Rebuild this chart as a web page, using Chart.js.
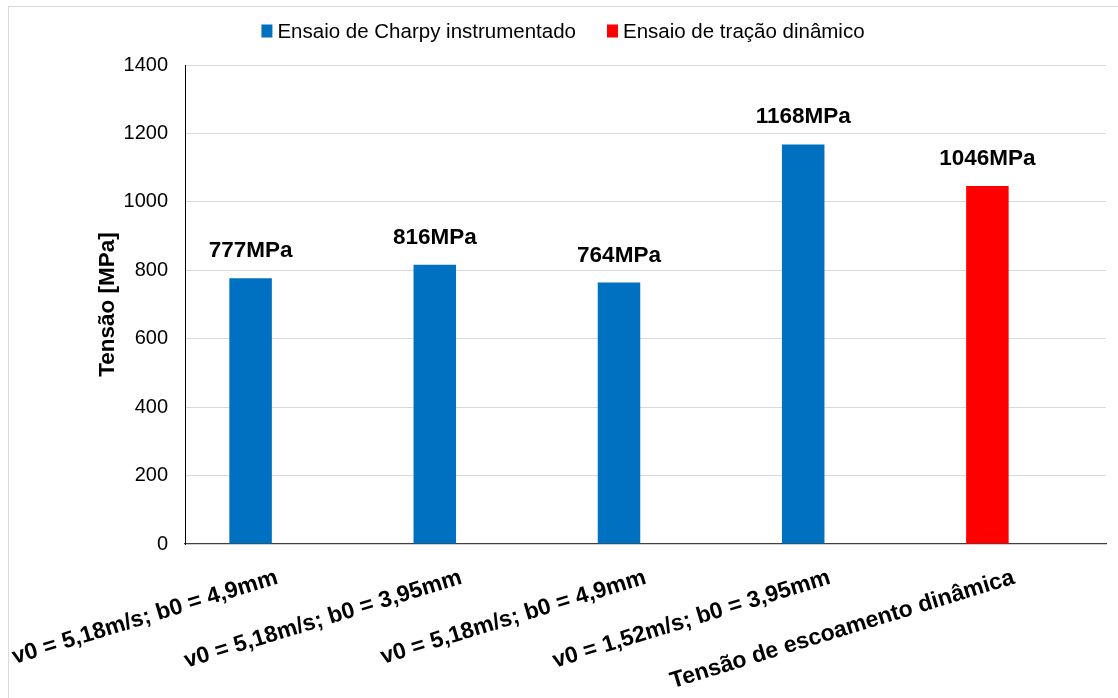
<!DOCTYPE html>
<html lang="pt">
<head>
<meta charset="utf-8">
<title>Tensão de escoamento dinâmica</title>
<script src="https://cdn.jsdelivr.net/npm/chart.js@4.4.1/dist/chart.umd.min.js"></script>
<style>
  html, body { margin: 0; padding: 0; background: #ffffff; }
  #wrap { position: relative; width: 1118px; height: 698px; overflow: hidden; }
  #frame { position: absolute; left: 8px; top: 6px; width: 1200px; height: 800px;
           border: 1px solid #d9d9d9; box-sizing: border-box; }
  #chart { position: absolute; left: 0; top: 0; }
</style>
</head>
<body>
<div id="wrap">
  <div id="frame"></div>
  <canvas id="chart" width="1118" height="698"></canvas>
</div>
<script>
// Ensaios e valores de tensão (MPa)
const categories = [
  'v0 = 5,18m/s; b0 = 4,9mm',
  'v0 = 5,18m/s; b0 = 3,95mm',
  'v0 = 5,18m/s; b0 = 4,9mm',
  'v0 = 1,52m/s; b0 = 3,95mm',
  'Tensão de escoamento dinâmica'
];
const charpyValues = [777, 816, 764, 1168, null];
const tracaoValues = [null, null, null, null, 1046];
const yTickValues = [0, 200, 400, 600, 800, 1000, 1200, 1400];
const seriesNames = ['Ensaio de Charpy instrumentado', 'Ensaio de tração dinâmico'];
const valueUnit = 'MPa';

const FONT = "'Liberation Sans', Arial, Helvetica, sans-serif";
const BLUE = '#0070C0';
const RED = '#FF0000';

// Rótulos de valor acima de cada barra
const valueLabels = {
  id: 'valueLabels',
  afterDatasetsDraw(chart) {
    const ctx = chart.ctx;
    ctx.save();
    ctx.font = 'bold 22.5px ' + FONT;
    ctx.fillStyle = '#000000';
    ctx.textAlign = 'center';
    ctx.textBaseline = 'alphabetic';
    chart.data.datasets.forEach((ds, di) => {
      if (!ds.showValues) return;
      const meta = chart.getDatasetMeta(di);
      meta.data.forEach((bar, i) => {
        const v = ds.data[i];
        if (v === null || v === undefined) return;
        ctx.fillText(v + valueUnit, bar.x, bar.y - 21);
      });
    });
    ctx.restore();
  }
};

// Legenda centrada no topo
const topLegend = {
  id: 'topLegend',
  afterDraw(chart) {
    const ctx = chart.ctx;
    ctx.save();
    ctx.font = '20.5px ' + FONT;
    ctx.textBaseline = 'middle';
    ctx.textAlign = 'left';
    const items = chart.data.datasets.filter(d => d.inLegend);
    const box = 11, gapText = 5, gapItem = 31;
    let total = 0;
    items.forEach((d, i) => {
      total += box + gapText + ctx.measureText(d.label).width;
      if (i < items.length - 1) total += gapItem;
    });
    let x = 563 - total / 2;
    const y = 31;
    items.forEach(d => {
      ctx.fillStyle = d.backgroundColor;
      ctx.fillRect(x, y - 6.5, box, 13);
      x += box + gapText;
      ctx.fillStyle = '#000000';
      ctx.fillText(d.label, x, y + 1);
      x += ctx.measureText(d.label).width + gapItem;
    });
    ctx.restore();
  }
};

new Chart(document.getElementById('chart'), {
  type: 'bar',
  data: {
    labels: categories,
    datasets: [
      { label: seriesNames[0], data: charpyValues, backgroundColor: BLUE,
        stack: 'ensaios', inLegend: true, showValues: true },
      { label: seriesNames[1], data: tracaoValues, backgroundColor: RED,
        stack: 'ensaios', inLegend: true, showValues: true },
      // segunda posição de grupo, vazia
      { label: '', data: [], backgroundColor: 'rgba(0,0,0,0)', stack: 'livre',
        inLegend: false, showValues: false }
    ]
  },
  options: {
    responsive: false,
    animation: false,
    layout: { padding: { left: 0, right: 12, top: 65, bottom: 0 } },
    datasets: { bar: { categoryPercentage: 0.5755, barPercentage: 0.802 } },
    plugins: { legend: { display: false }, tooltip: { enabled: false } },
    scales: {
      x: {
        grid: { drawOnChartArea: false, drawTicks: false },
        border: { color: '#404040', width: 1.3 },
        ticks: {
          autoSkip: false, minRotation: 17, maxRotation: 17,
          padding: 20, labelOffset: 0, color: '#000000',
          font: { family: FONT, size: 23, weight: 'bold' }
        },
        afterFit(scale) {
          scale.height = 154;
          scale.paddingLeft = 0;
          scale.paddingRight = 0;
        }
      },
      y: {
        min: yTickValues[0],
        max: yTickValues[yTickValues.length - 1],
        afterBuildTicks(scale) {
          scale.ticks = yTickValues.map(v => ({ value: v }));
        },
        ticks: {
          padding: 17, color: '#000000', font: { family: FONT, size: 20 },
          callback: v => String(v)
        },
        grid: {
          drawTicks: false,
          color: c => (c.tick && c.tick.value === 0) ? 'rgba(0,0,0,0)' : '#d9d9d9'
        },
        border: { color: '#000000', width: 1 },
        title: {
          display: true, text: 'Tensão [MPa]', color: '#000000',
          font: { family: FONT, size: 22.5, weight: 'bold' },
          padding: { top: 94, bottom: 0 }
        },
        afterFit(scale) { scale.width = 185; }
      }
    }
  },
  plugins: [valueLabels, topLegend]
});
</script>
</body>
</html>
